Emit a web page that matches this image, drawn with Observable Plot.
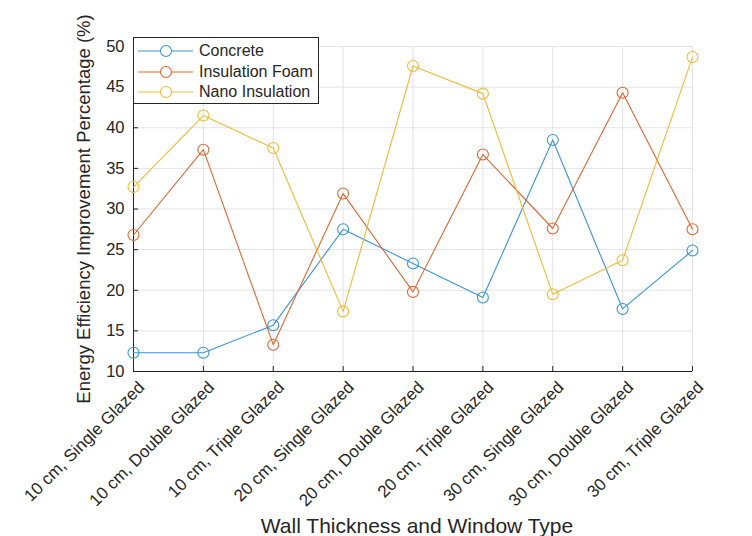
<!DOCTYPE html>
<html>
<head>
<meta charset="utf-8">
<script src="https://cdn.jsdelivr.net/npm/d3@7"></script>
<script src="https://cdn.jsdelivr.net/npm/@observablehq/plot@0.6"></script>
<style>
  html, body { margin: 0; padding: 0; background: #fff; }
  #chart { position: relative; width: 752px; height: 536px; font-family: "Liberation Sans", Arial, sans-serif; }
  #chart > svg { display: block; }
  #legend {
    position: absolute; left: 133px; top: 37px; width: 186px; height: 67px;
    box-sizing: border-box; border: 1px solid #262626; background: #fff;
    padding-top: 3px; color: #262626; font-size: 16px;
  }
  #legend .row { display: flex; align-items: center; height: 20.5px; }
  #legend svg { margin-left: 4px; margin-right: 6px; }
</style>
</head>
<body>
<div id="chart"><div id="legend"></div></div>
<script>
// Wall configurations along the x axis
const categories = [
  "10 cm, Single Glazed", "10 cm, Double Glazed", "10 cm, Triple Glazed",
  "20 cm, Single Glazed", "20 cm, Double Glazed", "20 cm, Triple Glazed",
  "30 cm, Single Glazed", "30 cm, Double Glazed", "30 cm, Triple Glazed"
];

// Improvement (%) per insulation material
const concrete = [12.3, 12.3, 15.7, 27.5, 23.3, 19.1, 38.5, 17.7, 24.9];
const insulationFoam = [26.8, 37.3, 13.3, 31.9, 19.8, 36.7, 27.6, 44.3, 27.5];
const nanoInsulation = [32.7, 41.5, 37.5, 17.4, 47.6, 44.2, 19.5, 23.7, 48.7];

const seriesNames = ["Concrete", "Insulation Foam", "Nano Insulation"];
const seriesColors = ["#3b95d6", "#dc6833", "#efbb3a"];
const yTicks = [10, 15, 20, 25, 30, 35, 40, 45, 50];

const seriesValues = [concrete, insulationFoam, nanoInsulation];
const rows = seriesNames.flatMap((name, s) =>
  categories.map((category, i) => ({series: name, category, value: seriesValues[s][i]}))
);

const ink = "#262626";
const gridColor = "#e3e3e3";

const chart = Plot.plot({
  width: 752,
  height: 536,
  marginLeft: 133,
  marginRight: 60,
  marginTop: 46,
  marginBottom: 165,
  style: {fontFamily: "'Liberation Sans', Arial, sans-serif", fontSize: "16px", color: ink, background: "white"},
  x: {type: "point", domain: categories, padding: 0, round: false},
  y: {domain: [10, 50]},
  color: {domain: seriesNames, range: seriesColors},
  marks: [
    Plot.gridX({stroke: gridColor, strokeOpacity: 1}),
    Plot.gridY(yTicks, {stroke: gridColor, strokeOpacity: 1}),
    Plot.axisY(yTicks, {
      tickSize: 0, tickPadding: 9, fontSize: 16.5,
      label: "Energy Efficiency Improvement Percentage (%)",
      labelAnchor: "center", labelArrow: "none", labelOffset: 57
    }),
    Plot.axisY(yTicks, {tickSize: -5, text: null, label: null, stroke: ink}),
    Plot.axisX({
      tickSize: 0, tickPadding: 8, tickRotate: -45, fontSize: 17, dx: 8, dy: 5,
      label: "Wall Thickness and Window Type",
      labelAnchor: "center", labelArrow: "none", labelOffset: 161
    }),
    Plot.axisX({tickSize: -5, text: null, label: null, stroke: ink}),
    Plot.ruleY([10], {stroke: ink}),
    Plot.ruleX([categories[0]], {stroke: ink}),
    Plot.line(rows, {x: "category", y: "value", z: "series", stroke: "series", strokeWidth: 1.1}),
    Plot.dot(rows, {x: "category", y: "value", stroke: "series", fill: "none", r: 5.5, strokeWidth: 1.1})
  ]
});

chart.querySelectorAll("[aria-label='y-axis label'] text").forEach(t => t.setAttribute("font-size", "18.5"));
chart.querySelectorAll("[aria-label='x-axis label'] text").forEach(t => {
  t.setAttribute("font-size", "21");
  t.setAttribute("dx", "4");
});

const container = document.getElementById("chart");
container.insertBefore(chart, container.firstChild);

// Legend box drawn over the top-left corner of the axes
const legend = document.getElementById("legend");
seriesNames.forEach((name, i) => {
  const row = document.createElement("div");
  row.className = "row";
  row.innerHTML =
    `<svg width="55" height="14"><line x1="0" x2="55" y1="7" y2="7" stroke="${seriesColors[i]}" stroke-width="1.1"/>` +
    `<circle cx="28" cy="7" r="5.5" fill="white" stroke="${seriesColors[i]}" stroke-width="1.1"/></svg>` +
    `<span>${name}</span>`;
  legend.appendChild(row);
});
</script>
</body>
</html>
